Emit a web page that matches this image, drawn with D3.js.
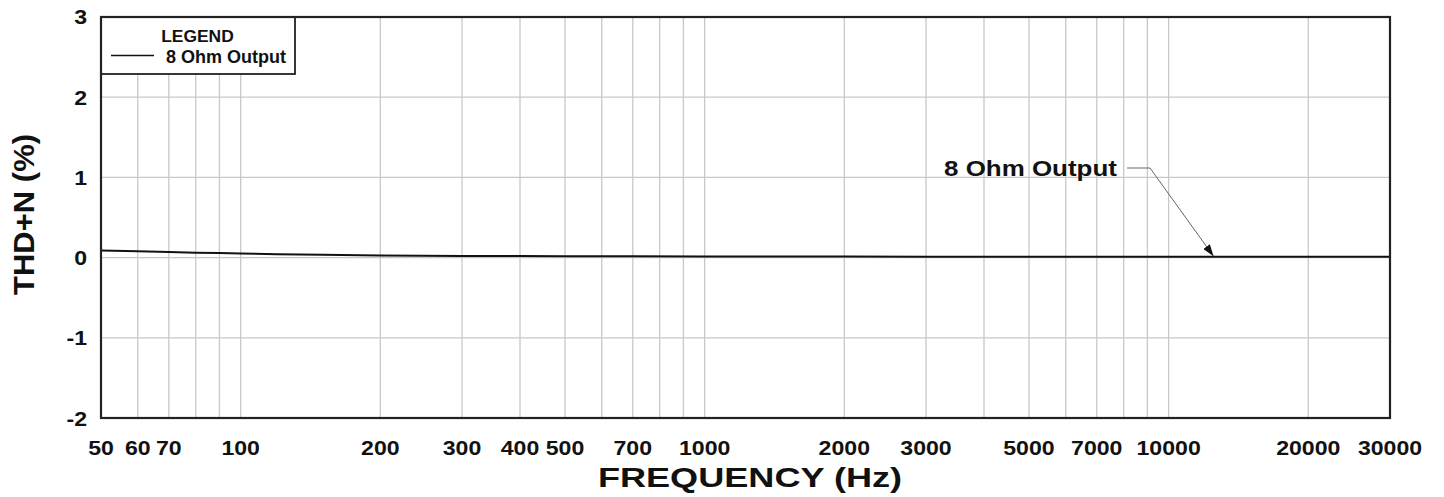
<!DOCTYPE html>
<html><head><meta charset="utf-8">
<script src="https://cdn.jsdelivr.net/npm/d3@7"></script>
<style>
html,body{margin:0;padding:0;background:#fff;}
svg text{font-family:"Liberation Sans",Arial,Helvetica,sans-serif;font-weight:bold;fill:#111;}
</style></head>
<body>
<svg id="c" width="1444" height="497"></svg>
<script>
// ---- data ----
const frequencies = [50, 60, 70, 80, 90, 100, 120, 150, 200, 300, 400, 500, 700, 1000, 2000, 3000, 5000, 7000, 10000, 20000, 30000];
const thdValues   = [0.09, 0.08, 0.07, 0.062, 0.056, 0.05, 0.042, 0.034, 0.026, 0.021, 0.019, 0.017, 0.016, 0.015, 0.013, 0.011, 0.01, 0.01, 0.01, 0.01, 0.01];
const seriesName = "8 Ohm Output";
const xTickLabels = [50, 60, 70, 100, 200, 300, 400, 500, 700, 1000, 2000, 3000, 5000, 7000, 10000, 20000, 30000];
const yTickLabels = [-2, -1, 0, 1, 2, 3];
const xTitle = "FREQUENCY (Hz)";
const yTitle = "THD+N (%)";
const legendTitle = "LEGEND";
const annotationFreq = 12500;

// ---- layout ----
const L = 101, R = 1390, T = 17, B = 418;
const svg = d3.select("#c");
const x = d3.scaleLog().domain([50, 30000]).range([L, R]);
const y = d3.scaleLinear().domain([-2, 3]).range([B, T]);

// horizontal stretch around the anchor x
function hstretch(sel, f) {
  sel.attr("transform", function() {
    const cx = +d3.select(this).attr("x");
    return `matrix(${f},0,0,1,${cx * (1 - f)},0)`;
  });
}

// grid
const gridTicks = [];
for (let d = 10; d <= 10000; d *= 10) for (let k = 1; k <= 9; k++) {
  const v = d * k; if (v > 50 && v < 30000) gridTicks.push(v);
}
svg.append("g").selectAll("line").data(gridTicks).join("line")
  .attr("x1", d => x(d)).attr("x2", d => x(d)).attr("y1", T).attr("y2", B)
  .attr("stroke", "#c8c8c8").attr("stroke-width", 1.3);
svg.append("g").selectAll("line").data([-1, 0, 1, 2]).join("line")
  .attr("x1", L).attr("x2", R).attr("y1", d => y(d)).attr("y2", d => y(d))
  .attr("stroke", "#c8c8c8").attr("stroke-width", 1.3);

// data line
const line = d3.line().x((d, i) => x(frequencies[i])).y(d => y(d));
svg.append("path").datum(thdValues).attr("d", line)
  .attr("fill", "none").attr("stroke", "#111").attr("stroke-width", 2);

// legend box
const lg = svg.append("g");
lg.append("rect").attr("x", L).attr("y", T).attr("width", 295 - L).attr("height", 74 - T)
  .attr("fill", "#fff").attr("stroke", "#222").attr("stroke-width", 1.8);
lg.append("text").attr("x", 197.5).attr("y", 42.5).attr("font-size", 16)
  .attr("text-anchor", "middle").text(legendTitle).call(hstretch, 1.09);
lg.append("line").attr("x1", 111).attr("x2", 154).attr("y1", 55.5).attr("y2", 55.5)
  .attr("stroke", "#111").attr("stroke-width", 1.6);
lg.append("text").attr("x", 166).attr("y", 62.5).attr("font-size", 18)
  .text(seriesName).call(hstretch, 1.0);

// frame
svg.append("rect").attr("x", L).attr("y", T).attr("width", R - L).attr("height", B - T)
  .attr("fill", "none").attr("stroke", "#222").attr("stroke-width", 2.2);

// x tick labels
svg.append("g").selectAll("text").data(xTickLabels).join("text")
  .attr("x", d => x(d)).attr("y", 455).attr("font-size", 21)
  .attr("text-anchor", "middle").text(d => d).call(hstretch, 1.1);

// y tick labels
svg.append("g").selectAll("text").data(yTickLabels).join("text")
  .attr("x", 87).attr("y", d => y(d) + 7.5).attr("font-size", 21)
  .attr("text-anchor", "end").text(d => d).call(hstretch, 1.1);

// axis titles
svg.append("text").attr("x", 750).attr("y", 487).attr("font-size", 28)
  .attr("text-anchor", "middle").text(xTitle).call(hstretch, 1.29);
svg.append("text").attr("transform", "translate(34,214.5) rotate(-90) scale(1.07,1)")
  .attr("x", 0).attr("y", 0).attr("font-size", 29)
  .attr("text-anchor", "middle").text(yTitle);

// annotation
const tipX = x(annotationFreq), tipY = y(thdValues[thdValues.length - 1]);
svg.append("defs").append("marker").attr("id", "arr").attr("viewBox", "0 0 12 8")
  .attr("refX", 12).attr("refY", 4).attr("markerWidth", 12).attr("markerHeight", 8)
  .attr("markerUnits", "userSpaceOnUse").attr("orient", "auto")
  .append("path").attr("d", "M0,0 L12,4 L0,8 Z").attr("fill", "#111");
svg.append("path")
  .attr("d", `M1127,168 L1150,168 L${tipX},${tipY - 0.5}`)
  .attr("fill", "none").attr("stroke", "#666").attr("stroke-width", 1)
  .attr("marker-end", "url(#arr)");
svg.append("text").attr("x", 944).attr("y", 176).attr("font-size", 22)
  .text(seriesName).call(hstretch, 1.18);
</script>
</body></html>
